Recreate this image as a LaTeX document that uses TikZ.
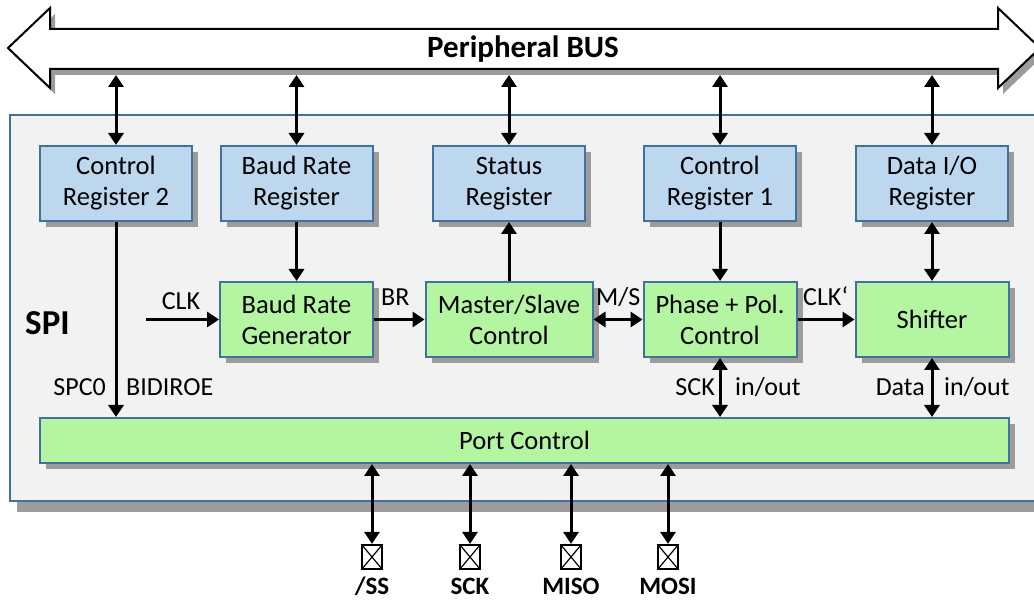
\documentclass[tikz,border=0pt]{standalone}
\usepackage{fontspec}
\setmainfont{Carlito}
\usetikzlibrary{arrows.meta,shadows}

\definecolor{regblue}{HTML}{BDD7EE}
\definecolor{logicgreen}{HTML}{B3F5A1}
\definecolor{edgeblue}{HTML}{41719C}
\definecolor{spigray}{HTML}{F2F2F2}
\definecolor{shadowgray}{HTML}{9C9C9C}

\tikzset{
  blk/.style={draw=edgeblue, line width=2pt, align=center, inner sep=0pt,
    font=\fontsize{26.5}{31}\selectfont,
    drop shadow={shadow xshift=6pt, shadow yshift=-6pt, fill=shadowgray, opacity=1}},
  register/.style={blk, fill=regblue, minimum width=152pt, minimum height=75pt},
  logic/.style={blk, fill=logicgreen, minimum width=153pt, minimum height=75pt},
  sig/.style={line width=3pt, -{Triangle[length=12pt,width=15pt]}},
  bisig/.style={line width=3pt, {Triangle[length=12pt,width=15pt]}-{Triangle[length=12pt,width=15pt]}},
  lbl/.style={font=\fontsize{26}{31}\selectfont, inner sep=0pt},
  pad/.style={draw, line width=2.2pt, fill=white, minimum width=20pt, minimum height=24pt, inner sep=0pt,
    path picture={\draw[line width=1.2pt] (path picture bounding box.south west) -- (path picture bounding box.north east)
      (path picture bounding box.north west) -- (path picture bounding box.south east);}},
  padlbl/.style={font=\bfseries\fontsize{25}{30}\selectfont, inner sep=0pt, anchor=base},
}

\begin{document}
\begin{tikzpicture}[x=1pt,y=-1pt]
        \useasboundingbox (0,0) rectangle (1034,601);
        \clip (0,0) rectangle (1034,601);

        % the SPI frame
        \filldraw[fill=spigray, draw=edgeblue, line width=2pt,
          drop shadow={shadow xshift=7pt, shadow yshift=-11pt, fill=shadowgray, opacity=1}]
          (10,115) rectangle (1060,501);
        \node[font=\bfseries\fontsize{35}{40}\selectfont, inner sep=0pt, anchor=base west] (spilbl) at (25,335) {SPI};

        % the bus
        \filldraw[fill=white, draw=black, line width=2pt,
          drop shadow={shadow xshift=5pt, shadow yshift=-6pt, fill=shadowgray, opacity=1}]
          (8,48) -- (50,8) -- (50,29) -- (998,29) -- (998,8) -- (1040,48) -- (998,88)
          -- (998,69) -- (50,69) -- (50,88) -- cycle;
        \node[font=\bfseries\fontsize{31}{36}\selectfont, inner sep=0pt, anchor=base] (buslbl) at (523,58) {Peripheral BUS};
        \coordinate (busfoot) at (0,75);

        % the registers
        \node[register] (crtwo) at (116,183.5) {Control\\Register 2};
        \node[register] (brreg) at (296.5,183.5) {Baud Rate\\Register};
        \node[register] (statreg) at (509,183.5) {Status\\Register};
        \node[register] (crone) at (720,183.5) {Control\\Register 1};
        \node[register] (dioreg) at (932,183.5) {Data I/O\\Register};

        % the logic blocks
        \node[logic] (brgen) at (296.5,319.5) {Baud Rate\\Generator};
        \node[logic, minimum width=167pt] (msctl) at (509,319.5) {Master/Slave\\Control};
        \node[logic] (phase) at (720,319.5) {Phase + Pol.\\Control};
        \node[logic] (shifter) at (932,319.5) {Shifter};
        \node[logic, minimum width=969pt, minimum height=45pt] (port) at (524.5,440.5) {Port Control};

        % the pins
        \node[pad] (ssp) at (372,557) {};
        \node[pad] (sckp) at (470,557) {};
        \node[pad] (misop) at (571,557) {};
        \node[pad] (mosip) at (668,557) {};
        \node[padlbl] (sslbl) at (372,594) {/SS};
        \node[padlbl] (scklbl) at (470,594) {SCK};
        \node[padlbl] (misolbl) at (571,594) {MISO};
        \node[padlbl] (mosilbl) at (668,594) {MOSI};

        % bus to registers
        \draw[bisig] (crtwo.north |- busfoot) -- (crtwo.north);
        \draw[bisig] (brreg.north |- busfoot) -- (brreg.north);
        \draw[bisig] (statreg.north |- busfoot) -- (statreg.north);
        \draw[bisig] (crone.north |- busfoot) -- (crone.north);
        \draw[bisig] (dioreg.north |- busfoot) -- (dioreg.north);

        % inner signals
        \coordinate (clkin) at (146,319.5);
        \draw[sig] (clkin) -- (brgen.west);
        \draw[sig] (brreg.south) -- (brgen.north);
        \draw[sig] (brgen.east) -- (msctl.west);
        \draw[sig] (msctl.north) -- (statreg.south);
        \draw[bisig] (msctl.east) -- (phase.west);
        \draw[sig] (crone.south) -- (phase.north);
        \draw[sig] (phase.east) -- (shifter.west);
        \draw[bisig] (dioreg.south) -- (shifter.north);
        \draw[sig] (crtwo.south) -- (crtwo.south |- port.north);
        \draw[bisig] (phase.south) -- (phase.south |- port.north);
        \draw[bisig] (shifter.south) -- (shifter.south |- port.north);

        % port to pins
        \draw[bisig] (ssp.north |- port.south) -- (ssp.north);
        \draw[bisig] (sckp.north |- port.south) -- (sckp.north);
        \draw[bisig] (misop.north |- port.south) -- (misop.north);
        \draw[bisig] (mosip.north |- port.south) -- (mosip.north);

        % signal names
        \node[lbl, anchor=base] (clklbl) at (181,310) {CLK};
        \node[lbl, anchor=base west] (brlbl) at (381,306) {BR};
        \node[lbl, anchor=base west] (mslbl) at (596,306) {M/S};
        \node[lbl, anchor=base west] (clkplbl) at (803,306) {CLK‘};
        \node[lbl, anchor=base east] (spclbl) at (106,396) {SPC0};
        \node[lbl, anchor=base west] (bidilbl) at (126,396) {BIDIROE};
        \node[lbl, anchor=base east] (scklbl2) at (715,396) {SCK};
        \node[lbl, anchor=base west] (sckio) at (735,396) {in/out};
        \node[lbl, anchor=base east] (datalbl) at (925,396) {Data};
        \node[lbl, anchor=base west] (dataio) at (944,396) {in/out};

    \end{tikzpicture}
\end{document}
